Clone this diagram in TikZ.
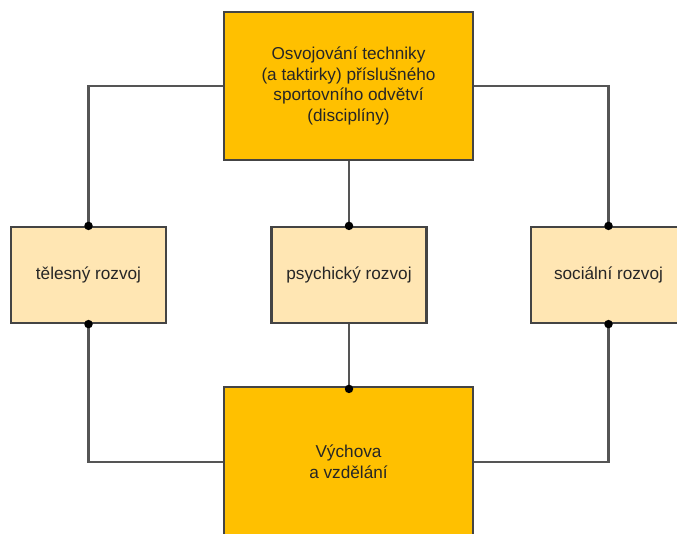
\documentclass[tikz,border=0pt]{standalone}
\usepackage{fontspec}
\setmainfont{Liberation Sans}
\begin{document}
\begin{tikzpicture}[x=1pt,y=-1pt,
  box/.style={draw=boxline,line width=2.2pt,align=center,text=txt,
    font=\fontsize{17.2}{20.7}\selectfont,inner sep=0pt},
  mainbox/.style={box,fill=mainfill,minimum width=249pt},
  sidebox/.style={box,fill=sidefill,minimum width=155pt,minimum height=96pt},
  link/.style={draw=linecol,line width=2.2pt},
  dot/.style={circle,fill=black,inner sep=0pt,minimum size=8.5pt}]
\definecolor{mainfill}{HTML}{FFC000}
\definecolor{sidefill}{HTML}{FFE6B3}
\definecolor{boxline}{HTML}{444444}
\definecolor{linecol}{HTML}{555555}
\definecolor{txt}{HTML}{262626}
\clip (0,0) rectangle (677,534);
\fill[white] (0,0) rectangle (677,534);

% boxes
\node[mainbox,minimum height=148pt] (top) at (348.5,86)
  {Osvojování techniky\\(a taktirky) příslušného\\sportovního odvětví\\(disciplíny)};
\node[sidebox] (left) at (88.5,275) {tělesný rozvoj};
\node[sidebox] (mid) at (349,275) {psychický rozvoj};
\node[sidebox] (right) at (608.5,275) {sociální rozvoj};
\node[mainbox,minimum height=150pt] (bot) at (348.5,462)
  {Výchova\\a vzdělání};

% connectors
\draw[link] (top.west) -| (left.north);
\draw[link] (top.east) -| (right.north);
\draw[link] (top.south -| mid.north) -- (mid.north);
\draw[link] (mid.south) -- (bot.north -| mid.south);
\draw[link] (left.south) |- (bot.west);
\draw[link] (right.south) |- (bot.east);

% junction dots
\node[dot] at (left.north) {};
\node[dot] at (right.north) {};
\node[dot] at (mid.north) {};
\node[dot] at (left.south) {};
\node[dot] at (right.south) {};
\node[dot] at ([yshift=-3pt]bot.north -| mid.south) {};
\end{tikzpicture}
\end{document}
